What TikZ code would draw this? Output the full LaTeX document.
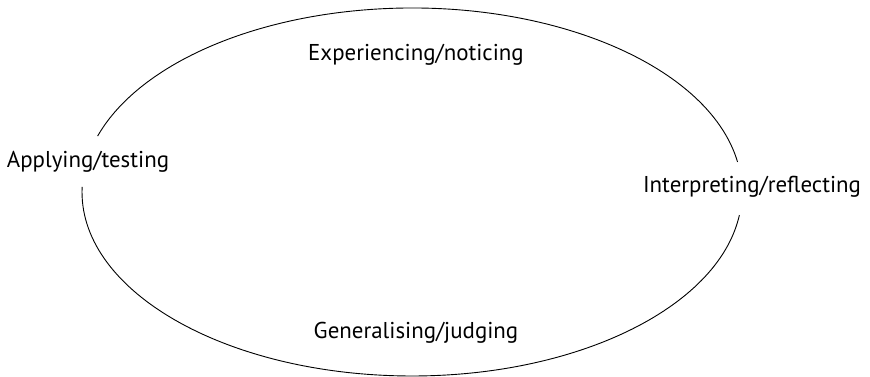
\documentclass[tikz,border=0pt]{standalone}
\usepackage{fontspec}
\setmainfont{PT Sans}
\usetikzlibrary{positioning}

\tikzset{
  stage/.style={font=\fontsize{22.9}{27}\selectfont, inner sep=0pt},
  loop line/.style={line width=0.9pt}
}

\begin{document}
\begin{tikzpicture}[x=1pt, y=1pt]
		\useasboundingbox (0,0) rectangle (870,377);
		\coordinate (o) at (412,185);
		\draw (416,322) node [stage] (exp) {Experiencing/noticing};
		\draw (752,190) node [stage] (int) {Interpreting/reflecting};
		\draw (416,44) node [stage] (gen) {Generalising/judging};
		\draw (88,215) node [stage] (app) {Applying/testing};
		\draw[loop line] (o) ++(9.4:330pt and 184pt)
			arc [start angle=9.4, end angle=162.3, x radius=330pt, y radius=184pt];
		\draw[loop line] (o) ++(178.4:330pt and 184pt)
			arc [start angle=178.4, end angle=352.8, x radius=330pt, y radius=184pt];
	\end{tikzpicture}
\end{document}
